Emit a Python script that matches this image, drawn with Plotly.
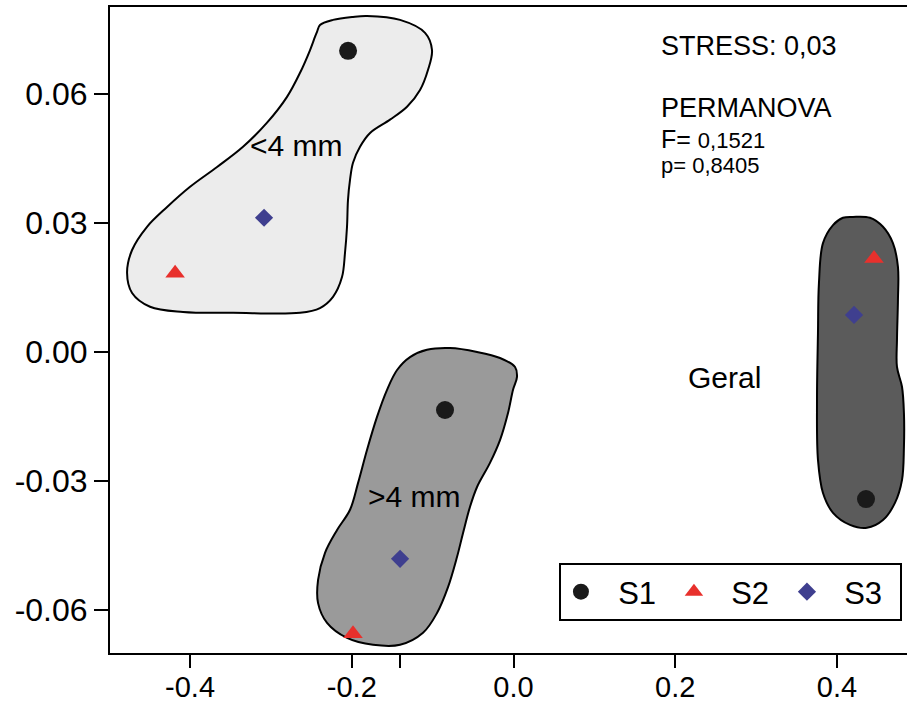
import plotly.graph_objects as go

# NMDS scores per sample (S1, S2, S3) for the three size fractions:
# <4 mm, >4 mm and Geral (all fractions)
s1_x = [-0.2046, -0.0847, 0.4359]
s1_y = [0.0700, -0.0135, -0.0342]
s2_x = [-0.4185, -0.1985, 0.4458]
s2_y = [0.0183, -0.0655, 0.0217]
s3_x = [-0.3085, -0.1403, 0.4211]
s3_y = [0.0312, -0.0481, 0.0086]

# Group envelopes drawn round each fraction
small_env_x = [-0.2430, -0.2393, -0.2232, -0.1985, -0.1812, -0.1403, -0.1094, -0.1008,
               -0.1057, -0.1156, -0.1317, -0.1527, -0.1774, -0.1898, -0.1985, -0.2022,
               -0.2047, -0.2059, -0.2084, -0.2121, -0.2232, -0.2393, -0.2640, -0.3468,
               -0.4087, -0.4495, -0.4717, -0.4779, -0.4717, -0.4532, -0.4284, -0.4000,
               -0.3666, -0.3345, -0.3048, -0.2801, -0.2640, -0.2516, -0.2454, -0.2430]
small_env_y = [0.0744, 0.0760, 0.0772, 0.0779, 0.0781, 0.0772, 0.0742, 0.0702,
               0.0656, 0.0609, 0.0570, 0.0540, 0.0509, 0.0477, 0.0440, 0.0400,
               0.0353, 0.0291, 0.0230, 0.0174, 0.0128, 0.0102, 0.0091, 0.0091,
               0.0093, 0.0105, 0.0137, 0.0184, 0.0237, 0.0291, 0.0337, 0.0384,
               0.0430, 0.0477, 0.0533, 0.0593, 0.0649, 0.0702, 0.0733, 0.0744]

large_env_x = [-0.1440, -0.1280, -0.1070, -0.0785, -0.0451, -0.0167, 0.0019, 0.0043,
               -0.0006, -0.0068, -0.0167, -0.0291, -0.0451, -0.0538, -0.0624, -0.0699,
               -0.0810, -0.0946, -0.1119, -0.1403, -0.1737, -0.2059, -0.2306, -0.2417,
               -0.2417, -0.2331, -0.2182, -0.2022, -0.1923, -0.1812, -0.1688, -0.1564,
               -0.1440]
large_env_y = [-0.0042, -0.0012, 0.0005, 0.0009, 0.0000, -0.0014, -0.0035, -0.0058,
               -0.0088, -0.0142, -0.0205, -0.0258, -0.0314, -0.0360, -0.0421, -0.0477,
               -0.0547, -0.0607, -0.0653, -0.0681, -0.0681, -0.0665, -0.0630, -0.0584,
               -0.0530, -0.0467, -0.0414, -0.0367, -0.0305, -0.0228, -0.0151, -0.0088,
               -0.0042]

all_env_x = [0.4198, 0.4408, 0.4569, 0.4692, 0.4754, 0.4754, 0.4742, 0.4742, 0.4804,
             0.4828, 0.4828, 0.4804, 0.4717, 0.4569, 0.4371, 0.4161, 0.3951, 0.3827,
             0.3765, 0.3753, 0.3765, 0.3777, 0.3827, 0.3951, 0.4074, 0.4198]
all_env_y = [0.0314, 0.0312, 0.0291, 0.0253, 0.0198, 0.0121, 0.0028, -0.0035, -0.0081,
             -0.0142, -0.0221, -0.0298, -0.0351, -0.0391, -0.0409, -0.0402, -0.0374,
             -0.0328, -0.0251, -0.0112, 0.0044, 0.0160, 0.0253, 0.0295, 0.0312, 0.0314]

# x ticks (the unlabelled one marks the >4 mm S3 score)
x_ticks = [-0.4, -0.2, -0.14, 0.0, 0.2, 0.4]
x_tick_text = ["-0.4", "-0.2", "", "0.0", "0.2", "0.4"]
y_ticks = [0.06, 0.03, 0.0, -0.03, -0.06]
y_tick_text = ["0.06", "0.03", "0.00", "-0.03", "-0.06"]

FONT = "Liberation Sans, Arial, sans-serif"
NB = "\u00a0\u00a0"  # gap between legend symbol and its label

fig = go.Figure()

for ex, ey, col in [(small_env_x, small_env_y, "#ececec"),
                    (large_env_x, large_env_y, "#9a9a9a"),
                    (all_env_x, all_env_y, "#5b5b5b")]:
    fig.add_trace(go.Scatter(
        x=ex, y=ey, mode="lines", fill="toself", fillcolor=col,
        line=dict(color="black", width=2, shape="spline", smoothing=1.0),
        showlegend=False, hoverinfo="skip"))

fig.add_trace(go.Scatter(x=s1_x, y=s1_y, mode="markers", name=NB + "S1",
                         marker=dict(symbol="circle", size=18, color="#1a1a1a")))
fig.add_trace(go.Scatter(x=s2_x, y=s2_y, mode="markers", name=NB + "S2",
                         marker=dict(symbol="triangle-up", size=17, color="#e8302c")))
fig.add_trace(go.Scatter(x=s3_x, y=s3_y, mode="markers", name=NB + "S3",
                         marker=dict(symbol="diamond", size=14, color="#3f3f8f")))

# group labels
for txt, gx, gy in [("&lt;4 mm", -0.268, 0.0481), ("&gt;4 mm", -0.123, -0.0337),
                    ("Geral", 0.2615, -0.0060)]:
    fig.add_annotation(x=gx, y=gy, text=txt, showarrow=False,
                       font=dict(family=FONT, size=30, color="black"))

# ordination statistics
stats = [("STRESS: 0,03", 0.9396, 27),
         ("PERMANOVA", 0.8437, 27),
         ("F= <span style='font-size:22px'>0,1521</span>", 0.7960, 25),
         ("p= 0,8405", 0.7540, 22)]
for txt, py, fs in stats:
    fig.add_annotation(xref="paper", yref="paper", x=0.689, y=py, text=txt,
                       showarrow=False, xanchor="left", yanchor="middle",
                       font=dict(family=FONT, size=fs, color="black"))

fig.update_layout(
    width=907, height=703,
    margin=dict(l=110, r=0, t=7, b=50),
    paper_bgcolor="white", plot_bgcolor="white",
    font=dict(family=FONT, color="black"),
    legend=dict(orientation="h", x=0.5633, y=0.1393, xanchor="left", yanchor="top",
                bordercolor="black", borderwidth=2, bgcolor="white",
                entrywidth=68, entrywidthmode="pixels",
                font=dict(family=FONT, size=31, color="black")),
)
fig.update_xaxes(range=[-0.499, 0.4866], tickvals=x_ticks, ticktext=x_tick_text,
                 showgrid=False, zeroline=False, showline=True, linecolor="black",
                 linewidth=2, mirror=True, ticks="outside", ticklen=13, tickwidth=2,
                 tickcolor="black", tickfont=dict(family=FONT, size=29),
                 ticklabelstandoff=-6, automargin=False)
fig.update_yaxes(range=[-0.0700, 0.0802], tickvals=y_ticks, ticktext=y_tick_text,
                 showgrid=False, zeroline=False, showline=True, linecolor="black",
                 linewidth=2, ticks="outside", ticklen=14, tickwidth=2,
                 tickcolor="black", tickfont=dict(family=FONT, size=32),
                 automargin=False)

fig.write_html("out.html")
